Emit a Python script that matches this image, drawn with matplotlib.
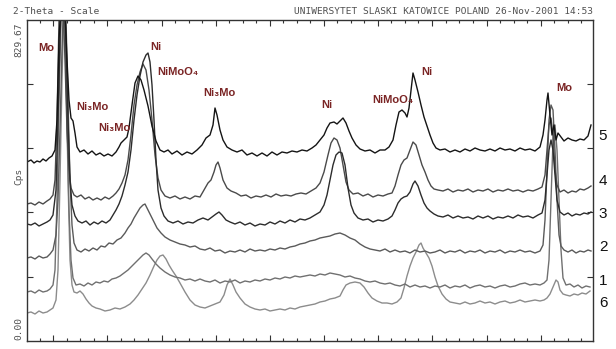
import matplotlib
matplotlib.use('Agg')
import matplotlib.pyplot as plt

# ---------------- data (channel position, intensity) ----------------
x5 = [27,31,34,37,40,43,46,49,52,55, 57,59,61,63,65,67,69,71,73,75,
      77,80,84,88,92,96,100,104,108,112, 116,119,121,124,127,129,132,135,138,141,
      144,148,152,156,160,164,168,172,177,182, 187,192,197,202,206,210,213,215,217,220,
      223,227,232,237,242,247,252,257,262,267, 272,277,282,287,292,297,302,307,312,316,
      320,324,327,330,334,337,340,343,346,349, 352,356,360,365,370,375,380,385,389,393,
      396,399,402,405,407,409,411,413,415,418, 421,424,427,430,433,436,440,445,450,455,
      460,465,470,475,480,485,490,495,500,505, 510,515,520,525,530,535,540,543,545,547,
      548,550,552,554,556,558,561,564,568,572, 576,580,584,588,591]
y5 = [179,181,178,180,179,182,180,183,185,191, 221,301,341,361,331,281,241,223,220,208,
      194,189,191,187,190,186,188,185,187,185, 189,194,198,201,204,213,236,258,265,261,
      251,235,215,200,191,189,191,187,190,186, 189,187,191,196,203,206,216,233,226,211,
      201,194,191,189,191,186,188,185,188,185, 189,186,189,188,190,189,191,190,193,196,
      201,206,213,218,219,217,220,223,218,210, 203,196,192,190,191,188,191,191,194,201,
      216,229,231,228,224,233,251,268,261,249, 236,224,215,206,198,193,191,192,189,191,
      189,192,190,193,191,190,192,190,193,191, 192,190,193,191,192,190,194,206,221,241,
      248,226,206,216,201,208,204,200,203,201, 200,202,201,205,216]

x4 = [27,31,35,39,43,47,50,53,55,57, 59,61,63,65,67,69,71,74,77,81,
      85,89,93,97,101,105,109,113,116,119, 122,125,128,131,134,137,140,143,146,149,
      152,155,158,161,165,170,175,180,185,190, 195,200,204,208,211,214,216,218,220,223,
      227,231,236,241,246,251,256,261,266,271, 276,281,286,291,296,301,306,311,316,320,
      324,328,331,334,337,340,343,346,349,353, 358,363,368,373,378,383,388,392,395,398,
      401,404,407,410,413,416,419,422,425,428, 431,434,438,443,448,453,458,463,468,473,
      478,483,488,493,498,503,508,513,518,523, 528,533,538,542,545,547,549,551,553,555,
      557,560,564,568,572,576,580,584,588,591]
y4 = [137,138,136,139,137,140,142,146,161,221, 321,371,341,281,211,171,153,146,144,146,
      142,144,141,143,141,144,142,145,148,152, 158,166,181,206,236,256,269,277,271,251,
      221,186,163,151,145,143,145,142,144,142, 145,144,151,158,161,169,176,179,173,161,
      153,150,148,145,146,143,145,144,146,144, 147,145,146,145,147,148,147,150,153,158,
      169,186,198,203,201,193,176,159,151,147, 148,145,147,144,146,145,147,148,155,166,
      176,181,183,191,199,196,186,176,169,161, 155,152,151,150,152,149,151,150,152,149,
      151,150,152,149,151,150,152,150,151,149, 151,150,152,154,166,191,216,223,206,171,
      156,149,151,148,150,149,152,151,153,155]

x3 = [27,31,35,39,43,47,50,53,56,58, 60,62,64,66,68,70,72,75,78,82,
      86,90,94,98,102,106,110,113,116,119, 122,125,128,131,134,137,140,143,146,148,
      150,152,154,156,158,161,164,168,173,178, 183,188,193,198,203,208,212,216,219,222,
      226,230,235,240,245,250,255,260,265,270, 275,280,285,290,295,300,305,310,315,320,
      324,327,330,333,336,339,342,345,348,351, 354,358,363,368,373,378,383,388,392,395,
      398,401,404,407,410,413,415,418,421,424, 427,430,434,438,443,448,453,458,463,468,
      473,478,483,488,493,498,503,508,513,518, 523,528,533,538,542,545,547,549,551,553,
      555,557,560,564,568,572,576,580,584,588, 591]
y3 = [117,116,118,115,117,119,121,126,151,221, 301,361,351,301,221,161,136,125,120,118,
      120,116,119,117,120,118,121,126,131,137, 145,156,169,191,221,246,265,279,286,288,
      279,256,221,181,151,133,125,120,118,120, 117,119,118,121,123,121,124,127,129,126,
      121,119,117,119,116,118,115,117,116,119, 117,120,118,121,119,122,121,123,126,129,
      136,146,161,176,186,189,188,176,153,136, 128,123,121,122,119,121,120,122,125,131,
      138,142,144,145,149,157,160,155,146,138, 133,130,127,125,124,126,123,125,123,124,
      122,125,123,125,122,124,123,125,123,126, 124,125,123,126,128,141,166,191,201,191,
      166,141,129,126,128,125,127,126,128,127, 129]

x2 = [27,31,35,39,43,47,50,53,56,58, 60,62,64,66,68,70,72,74,77,81,
      85,89,93,97,101,105,109,113,117,121, 125,128,131,134,137,140,143,145,148,151,
      154,157,161,165,170,175,180,185,190,195, 200,205,210,215,220,225,230,235,240,245,
      250,255,260,265,270,275,280,285,290,295, 300,305,310,315,320,325,330,335,340,345,
      350,355,360,365,370,375,380,385,390,395, 400,405,410,415,420,425,430,435,440,445,
      450,455,460,465,470,475,480,485,490,495, 500,505,510,515,520,525,530,535,540,543,
      545,547,549,551,553,555,557,559,561,564, 568,572,576,580,584,588,591]
y2 = [83,84,82,85,83,84,87,91,106,141, 211,291,351,321,241,161,116,98,91,89,
      92,90,93,91,95,94,98,97,101,103, 108,113,117,123,128,133,136,137,131,125,
      119,113,108,104,101,99,97,96,94,95, 92,91,93,90,91,88,90,89,91,89,
      92,90,91,90,92,91,93,92,94,95, 97,98,100,101,103,104,105,107,108,106,
      103,101,97,94,92,91,90,92,89,91, 89,90,88,91,89,90,88,89,91,88,
      90,89,91,88,90,89,91,88,90,89, 91,88,90,89,91,89,90,88,90,96,
      121,171,221,236,231,191,141,106,95,91, 89,91,88,90,89,91,90]

x1 = [27,31,35,39,43,47,50,53,55,57, 59,61,63,65,67,69,71,73,76,80,
      84,88,92,96,100,104,108,112,116,120, 124,128,132,136,140,143,146,149,152,156,
      160,165,170,175,180,185,190,195,200,205, 210,215,220,225,230,235,240,245,250,255,
      260,265,270,275,280,285,290,295,300,305, 310,315,320,325,330,335,340,345,350,355,
      360,365,370,375,380,385,390,395,400,405, 410,415,420,425,430,435,440,445,450,455,
      460,465,470,475,480,485,490,495,500,505, 510,515,520,525,530,535,540,544,547,549,
      551,553,555,557,559,561,563,566,570,574, 578,582,586,590]
y1 = [49,50,48,51,49,50,52,56,71,141, 241,321,361,311,221,131,81,63,56,57,
      55,58,56,59,58,60,59,62,63,65, 68,71,75,79,83,86,88,86,82,77,
      73,69,66,64,63,61,62,60,62,60, 59,61,58,60,59,61,58,60,59,61,
      60,62,61,63,62,64,63,65,64,65, 66,65,67,66,68,67,66,64,65,63,
      62,60,59,60,58,57,58,56,55,57, 54,56,54,55,53,55,54,56,53,55,
      54,56,53,55,56,54,55,53,55,56, 54,55,57,58,56,57,56,58,61,81,
      141,201,216,191,141,91,63,56,57,54, 56,53,55,54]

x6 = [27,31,35,39,43,47,50,53,56,58, 60,62,64,66,68,70,72,74,77,80,
      83,86,89,92,96,100,105,110,115,120, 125,130,134,138,142,146,150,154,157,160,
      163,166,169,172,176,180,185,190,195,200, 205,210,215,220,224,227,230,233,236,240,
      245,250,255,260,265,270,275,280,285,290, 295,300,305,310,315,320,325,330,335,340,
      343,346,350,355,360,364,368,372,377,382, 387,392,397,401,404,407,410,413,416,419,
      421,423,426,429,432,435,438,442,446,450, 455,460,465,470,475,480,485,490,495,500,
      505,510,515,520,525,530,535,540,544,547, 550,553,556,558,560,563,566,570,574,578,
      582,586,590]
y6 = [28,29,27,30,28,29,31,33,41,71, 161,261,341,281,161,81,56,49,48,50,
      47,42,38,35,33,32,30,31,33,32, 34,37,41,46,52,58,66,75,81,85,
      86,82,76,71,65,58,49,41,36,34, 33,35,37,39,46,56,62,56,49,43,
      37,34,32,31,32,30,31,32,31,33, 32,34,35,36,37,39,40,42,43,45,
      51,56,58,59,58,54,48,43,40,38, 38,37,39,43,53,65,75,83,89,96,
      98,93,88,83,75,64,55,47,42,39, 38,37,39,37,38,40,38,39,37,39,
      40,38,39,41,39,40,41,40,41,43, 47,54,61,59,51,47,46,45,47,46,
      48,47,50]

sample_names = ["6", "1", "2", "4", "3", "5"]
phase_labels = ["Mo", "Ni₃Mo", "Ni₃Mo", "Ni", "NiMoO₄", "Ni₃Mo", "Ni", "NiMoO₄", "Ni", "Mo"]
phase_x = [38, 76, 98, 150, 157, 203, 321, 372, 421, 556]
phase_y = [293, 234, 213, 294, 269, 248, 236, 241, 269, 253]

header_left = "2-Theta - Scale"
header_right = "UNIWERSYTET SLASKI KATOWICE POLAND 26-Nov-2001 14:53"
y_top_label = "829.67"
y_bottom_label = "0.00"
y_unit = "Cps"

# ---------------- figure ----------------
W, H = 616, 349
fig = plt.figure(figsize=(W / 100, H / 100), dpi=100)
fig.patch.set_facecolor('white')
ax = fig.add_axes([27 / W, 1 - 341 / H, (593 - 27) / W, (341 - 19.5) / H])
ax.set_xlim(27, 593)
ax.set_ylim(0, 321.5)

traces = [(x6, y6, '#8c8c8c'), (x1, y1, '#707070'), (x2, y2, '#5a5a5a'),
          (x4, y4, '#4a4a4a'), (x3, y3, '#2c2c2c'), (x5, y5, '#141414')]
for xs, ys, c in traces:
    ax.plot(xs, ys, color=c, lw=1.0, solid_joinstyle='round')

# ticks
xmaj = [53, 107, 162, 216, 270, 324, 378, 432, 487, 541]
xmin = []
for a, b in zip(xmaj[:-1], xmaj[1:]):
    xmin += [a + (b - a) * k / 4 for k in (1, 2, 3)]
xmin += [53 - 13.5] + [541 + 13.5 * k for k in (1, 2, 3)]
ax.set_xticks(xmaj)
ax.set_xticks(xmin, minor=True)
ax.set_yticks([64.3, 128.6, 192.9, 257.2])
ax.set_yticks([], minor=True)
ax.tick_params(which='both', direction='in', top=True, right=True,
               labelbottom=False, labelleft=False, color='#333333', width=0.8)
ax.tick_params(which='major', length=4.5)
ax.tick_params(which='minor', length=2.5)
for s in ax.spines.values():
    s.set_color('#333333')
    s.set_linewidth(1.0)

# phase labels
for t, px, py in zip(phase_labels, phase_x, phase_y):
    ax.text(px, py, t, color='#7a2424', fontsize=8, fontweight='bold',
            family=['Liberation Sans', 'DejaVu Sans'], ha='left', va='center')

# texts in pixel coordinates
def fx(px):
    return px / W

def fy(py):
    return 1 - py / H

mono = dict(family='DejaVu Sans Mono', color='#505050', fontsize=6.8)
fig.text(fx(13), fy(11), header_left, ha='left', va='center', **mono)
fig.text(fx(593), fy(11), header_right, ha='right', va='center', **mono)
fig.text(fx(19), fy(40), y_top_label, rotation=90, ha='center', va='center', **mono)
fig.text(fx(19), fy(176), y_unit, rotation=90, ha='center', va='center', **mono)
fig.text(fx(19), fy(329), y_bottom_label, rotation=90, ha='center', va='center', **mono)

right_y = [303, 281, 247, 181, 214, 136]
for name, py in zip(sample_names, right_y):
    fig.text(fx(603), fy(py), name, ha='center', va='center', fontsize=11,
             family='Liberation Sans', color='#111111')

fig.savefig('out.png', dpi=100, facecolor='white')
